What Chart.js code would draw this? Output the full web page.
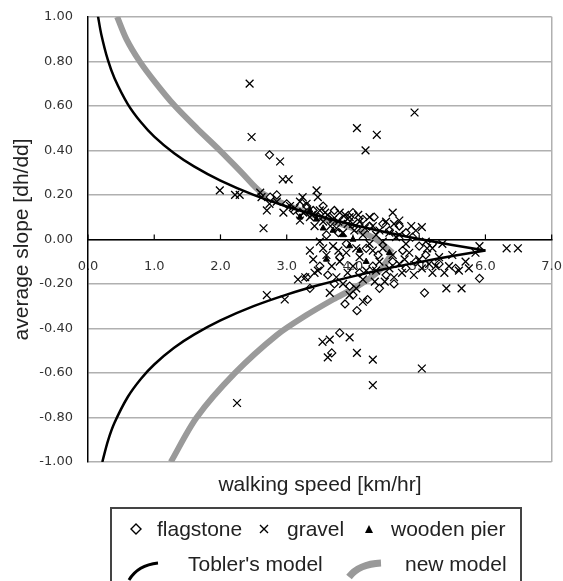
<!DOCTYPE html>
<html>
<head>
<meta charset="utf-8">
<script src="https://cdn.jsdelivr.net/npm/chart.js@4.4.1/dist/chart.umd.min.js"></script>
<style>
  html, body { margin: 0; padding: 0; background: #fff; }
  #wrap { position: relative; width: 563px; height: 581px; overflow: hidden; }
  /* canvas shifted so the plot area lands at x 88-552, y 16-462 */
  #chart { position: absolute; left: 0; top: -6px; }
  .xtitle { position: absolute; left: 88px; width: 464px; top: 472px; text-align: center;
    font: 21px "Liberation Sans", Arial, sans-serif; color: #222; }
  .legend { position: absolute; left: 110px; top: 507px; width: 412px; height: 90px;
    border: 2px solid #444; box-sizing: border-box; font: 21px "Liberation Sans", Arial, sans-serif; color: #222; }
  .legend span, .legend svg { position: absolute; }
</style>
</head>
<body>
<div id="wrap">
  <canvas id="chart" width="581" height="587"></canvas>
  <div class="xtitle">walking speed [km/hr]</div>
  <div class="legend">
    <svg style="left:17px;top:13px" width="14" height="14"><path d="M7 2 L12 7 L7 12 L2 7 Z" fill="#fff" stroke="#000" stroke-width="1.4"/></svg>
    <span style="left:45px;top:8px">flagstone</span>
    <svg style="left:146px;top:14px" width="12" height="12"><path d="M2 2 L10 10 M10 2 L2 10" stroke="#000" stroke-width="1.4"/></svg>
    <span style="left:175px;top:8px">gravel</span>
    <svg style="left:251px;top:14px" width="12" height="12"><path d="M6 2 L10 10 L2 10 Z" fill="#000"/></svg>
    <span style="left:279px;top:8px">wooden pier</span>
    <svg style="left:14px;top:46px" width="36" height="28"><path d="M3 25 Q12 10 32 8" fill="none" stroke="#000" stroke-width="3"/></svg>
    <span style="left:76px;top:43px">Tobler's model</span>
    <svg style="left:233px;top:44px" width="40" height="28"><path d="M4 24 Q14 11 36 10" fill="none" stroke="#999" stroke-width="7"/></svg>
    <span style="left:293px;top:43px">new model</span>
  </div>
</div>
<script>
// Observed points [walking speed, average slope]
const flagstone = [
  [2.74, 0.38], [2.75, 0.19], [2.85, 0.20], [3.00, 0.16], [3.10, 0.13], [3.20, 0.12],
  [3.30, 0.15], [3.40, 0.13], [3.48, 0.10], [3.55, 0.15], [3.60, 0.02], [3.65, 0.10],
  [3.72, 0.13], [3.78, 0.03], [3.85, 0.09], [3.90, -0.02], [3.95, 0.10], [4.00, 0.12],
  [4.05, 0.05], [4.15, 0.09], [4.20, -0.04], [4.25, 0.06], [4.32, 0.10], [4.38, -0.07],
  [4.45, 0.07], [4.55, 0.04], [4.60, -0.10], [4.70, 0.06], [4.75, -0.05], [4.80, 0.03],
  [4.90, 0.01], [4.95, -0.10], [5.00, -0.03], [5.20, -0.02], [3.50, -0.12], [3.62, -0.16],
  [3.72, -0.20], [3.80, -0.08], [4.00, -0.25], [4.10, -0.15], [4.30, -0.12], [4.40, -0.22],
  [4.50, -0.16], [4.62, -0.20], [4.80, -0.13], [5.10, -0.07], [5.30, -0.11], [5.55, -0.13],
  [3.30, -0.17], [3.35, -0.22], [3.88, -0.29], [3.95, -0.21], [4.06, -0.32], [4.22, -0.27],
  [3.80, -0.42], [3.68, -0.51], [5.08, -0.24], [5.91, -0.175]
];
const gravel = [
  [2.44, 0.70], [2.47, 0.46], [4.06, 0.50], [4.36, 0.47], [4.19, 0.40], [4.93, 0.57],
  [2.90, 0.35], [2.94, 0.27], [3.03, 0.27], [2.65, 0.05], [1.99, 0.22], [2.22, 0.20],
  [2.29, 0.20], [2.60, 0.21], [2.62, 0.19], [2.70, 0.13], [2.74, 0.16], [2.85, 0.17],
  [2.95, 0.12], [3.05, 0.15], [3.12, 0.14], [3.20, 0.17], [3.24, 0.19], [3.25, 0.12],
  [3.20, 0.085], [3.30, 0.16], [3.35, 0.10], [3.38, 0.11], [3.42, 0.06], [3.45, 0.22],
  [3.47, 0.19], [3.50, 0.13], [3.55, 0.08], [3.58, 0.12], [3.62, 0.11], [3.66, 0.06],
  [3.70, 0.09], [3.75, 0.05], [3.78, 0.08], [3.80, 0.12], [3.85, 0.03], [3.88, 0.11],
  [3.92, 0.07], [3.95, 0.10], [4.00, 0.07], [4.02, 0.04], [4.08, 0.11], [4.10, 0.08],
  [4.15, 0.02], [4.18, 0.05], [4.25, 0.10], [4.30, 0.06], [4.35, 0.02], [4.40, 0.04],
  [4.45, -0.01], [4.50, 0.08], [4.55, 0.03], [4.60, 0.12], [4.62, 0.07], [4.65, 0.01],
  [4.70, 0.085], [4.70, 0.02], [4.80, -0.02], [4.88, 0.06], [4.95, 0.04], [5.04, 0.055],
  [5.10, -0.01], [5.12, -0.04], [5.20, -0.04], [5.35, -0.02], [3.35, -0.05], [3.40, -0.09],
  [3.50, -0.01], [3.55, -0.04], [3.60, -0.07], [3.68, -0.12], [3.70, -0.03], [3.78, -0.05],
  [3.80, -0.10], [3.90, -0.06], [3.92, -0.15], [4.00, -0.12], [4.05, -0.04], [4.10, -0.08],
  [4.15, -0.18], [4.20, -0.14], [4.25, -0.02], [4.30, -0.05], [4.35, -0.14], [4.40, -0.10],
  [4.45, -0.04], [4.55, -0.13], [4.60, -0.07], [4.62, -0.17], [4.70, -0.11], [4.74, -0.15],
  [4.78, -0.09], [4.85, -0.06], [4.92, -0.16], [5.00, -0.09], [5.04, -0.13], [5.15, -0.11],
  [5.20, -0.15], [5.25, -0.12], [5.30, -0.08], [5.38, -0.15], [5.45, -0.12], [5.50, -0.07],
  [5.60, -0.14], [5.70, -0.10], [5.75, -0.13], [5.85, -0.06], [5.91, -0.03], [6.32, -0.04],
  [6.49, -0.04], [5.41, -0.22], [5.64, -0.22], [4.33, -0.19], [4.48, -0.19], [3.75, -0.17],
  [3.85, -0.20], [3.95, -0.25], [4.05, -0.22], [4.15, -0.28], [3.65, -0.24], [3.17, -0.18],
  [3.28, -0.17], [3.42, -0.15], [3.47, -0.14], [2.70, -0.25], [2.97, -0.27], [3.54, -0.46],
  [3.65, -0.45], [3.95, -0.44], [3.62, -0.53], [4.06, -0.51], [4.30, -0.54], [5.04, -0.58],
  [4.30, -0.655], [2.25, -0.735]
];
const woodenPier = [
  [3.20, 0.10], [3.35, 0.13], [3.45, 0.09], [3.55, 0.05], [3.70, 0.04], [3.85, 0.02],
  [4.00, 0.00], [3.95, -0.03], [4.10, -0.05], [4.55, -0.06], [4.20, -0.10], [3.60, -0.09]
];

// Model curves [speed, slope]
const toblerUp = [
  [0.15, 1.004], [0.2, 0.922], [0.3, 0.806], [0.4, 0.724], [0.6, 0.608], [0.8, 0.526],
  [1.0, 0.462], [1.3, 0.387], [1.6, 0.328], [2.0, 0.264], [2.5, 0.200], [3.0, 0.148],
  [3.5, 0.104], [4.0, 0.066], [4.5, 0.032], [5.0, 0.002], [5.5, -0.025], [6.0, -0.05]
];
const toblerDown = [
  [0.216, -1.0], [0.3, -0.906], [0.4, -0.824], [0.6, -0.708], [0.8, -0.626], [1.0, -0.562],
  [1.3, -0.487], [1.6, -0.428], [2.0, -0.364], [2.5, -0.300], [3.0, -0.248], [3.5, -0.204],
  [4.0, -0.166], [4.5, -0.132], [5.0, -0.102], [5.5, -0.075], [6.0, -0.05]
];
const newUp = [
  [0.44, 1.0], [0.58, 0.90], [0.78, 0.80], [1.03, 0.70], [1.31, 0.60], [1.64, 0.50],
  [1.99, 0.40], [2.32, 0.30], [2.62, 0.21], [3.00, 0.155], [3.50, 0.10], [4.00, 0.05],
  [4.35, 0.00], [4.60, -0.06]
];
const newDown = [
  [1.25, -1.0], [1.64, -0.80], [2.22, -0.60], [2.85, -0.43], [3.30, -0.34], [3.70, -0.27],
  [4.07, -0.21], [4.40, -0.14], [4.60, -0.06]
];

const xTicks = [0, 1, 2, 3, 4, 5, 6, 7];

const pts = arr => arr.map(p => ({ x: p[0], y: p[1] }));
const lineSet = (data, color, width, order) => ({
  type: 'line', data: pts(data), borderColor: color, borderWidth: width,
  pointRadius: 0, fill: false, tension: 0.3, order: order
});

// small tick marks pointing up from the zero line, as in the figure
const upTicks = {
  id: 'upTicks',
  afterDatasetsDraw(chart) {
    const x = chart.scales.x, y0 = chart.scales.y.getPixelForValue(0);
    const c = chart.ctx;
    c.save();
    c.strokeStyle = '#000';
    c.lineWidth = 1.2;
    xTicks.forEach(v => {
      const px = x.getPixelForValue(v);
      c.beginPath();
      c.moveTo(px, y0);
      c.lineTo(px, y0 - 5);
      c.stroke();
    });
    c.restore();
  }
};

new Chart(document.getElementById('chart'), {
  type: 'scatter',
  data: {
    datasets: [
      lineSet(newUp, '#9a9a9a', 6, 4),
      lineSet(newDown, '#9a9a9a', 6, 4),
      { label: 'flagstone', data: pts(flagstone), pointStyle: 'rectRot', pointRadius: 4,
        backgroundColor: '#fff', borderColor: '#000', borderWidth: 1.2, order: 3 },
      { label: 'gravel', data: pts(gravel), pointStyle: 'crossRot', pointRadius: 5.5,
        borderColor: '#000', borderWidth: 1.3, order: 2 },
      { label: 'wooden pier', data: pts(woodenPier), pointStyle: 'triangle', pointRadius: 3.5,
        backgroundColor: '#000', borderColor: '#000', borderWidth: 1, order: 2 },
      lineSet(toblerUp, '#000', 2.5, 1),
      lineSet(toblerDown, '#000', 2.5, 1)
    ]
  },
  plugins: [upTicks],
  options: {
    responsive: false,
    animation: false,
    layout: { padding: { left: 0, right: 0, top: 10, bottom: 119 } },
    plugins: { legend: { display: false }, tooltip: { enabled: false } },
    scales: {
      x: {
        type: 'linear', min: 0, max: 7, position: { y: 0 },
        afterBuildTicks: s => { s.ticks = xTicks.map(v => ({ value: v })); },
        ticks: { callback: v => v.toFixed(1), padding: 19, color: '#333', maxRotation: 0,
          font: { family: 'DejaVu Sans', size: 13 } },
        grid: { color: c => (c.tick && c.tick.value === 7) ? '#b0b0b0' : 'rgba(0,0,0,0)',
          lineWidth: 1.5, drawTicks: false },
        border: { color: '#000', width: 1.5 }
      },
      y: {
        min: -1, max: 1,
        afterFit: s => { s.width = 88; },
        ticks: { stepSize: 0.2, padding: 15, color: '#333',
          callback: v => Math.abs(v) < 1e-9 ? '0.00' : v.toFixed(2),
          font: { family: 'DejaVu Sans', size: 13 } },
        grid: { color: '#b0b0b0', lineWidth: 1.5, drawTicks: false },
        border: { color: '#000', width: 1.5 },
        title: { display: true, text: 'average slope [dh/dd]', color: '#222', padding: 10,
          font: { family: 'Liberation Sans', size: 21 } }
      }
    }
  }
});
</script>
</body>
</html>
